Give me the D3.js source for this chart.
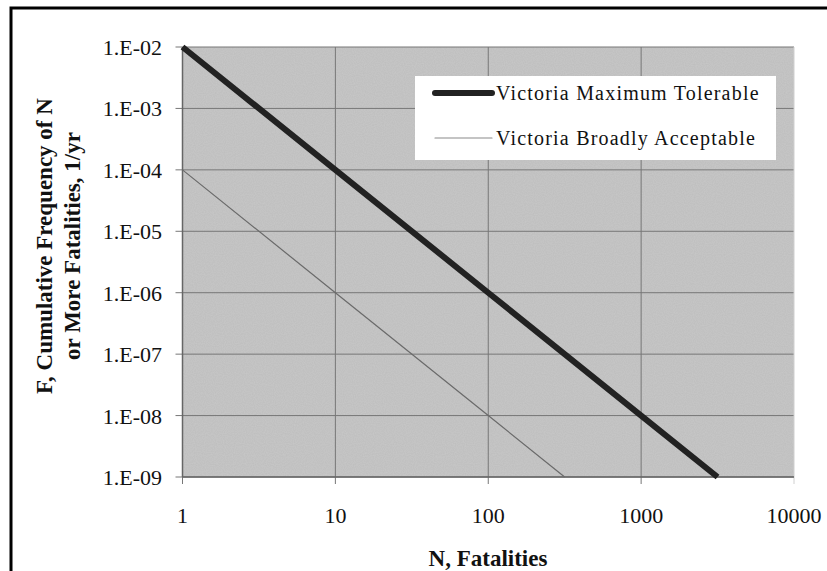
<!DOCTYPE html>
<html>
<head>
<meta charset="utf-8">
<script src="https://cdn.jsdelivr.net/npm/d3@7"></script>
<style>
  body { margin: 0; background: #fff; }
  svg text { font-family: "Liberation Serif", "Times New Roman", serif; fill: #111; }
</style>
</head>
<body>
<div id="chart"></div>
<script>
// data
const xTicks = [1, 10, 100, 1000, 10000];
const yTicks = [1e-2, 1e-3, 1e-4, 1e-5, 1e-6, 1e-7, 1e-8, 1e-9];
const yTickLabels = ["1.E-02", "1.E-03", "1.E-04", "1.E-05", "1.E-06", "1.E-07", "1.E-08", "1.E-09"];

const seriesNames = ["Victoria Maximum Tolerable", "Victoria Broadly Acceptable"];
const maxTolN = [1, 10, 100, 1000, 3162];
const maxTolF = [1e-2, 1e-4, 1e-6, 1e-8, 1e-9];
const broadN = [1, 10, 100, 316];
const broadF = [1e-4, 1e-6, 1e-8, 1e-9];

const width = 827, height = 571;
const margin = {top: 47, right: 33, bottom: 94, left: 182.5};

const svg = d3.select("#chart")
    .append("svg")
    .attr("width", width)
    .attr("height", height);

// noisy grey like the scanned original
const defs = svg.append("defs");
const filt = defs.append("filter").attr("id", "grain").attr("x", 0).attr("y", 0).attr("width", 1).attr("height", 1);
filt.append("feTurbulence").attr("type", "fractalNoise").attr("baseFrequency", 0.9).attr("numOctaves", 1).attr("seed", 3).attr("result", "noise");
filt.append("feColorMatrix").attr("in", "noise").attr("type", "matrix")
    .attr("values", "0 0 0 0 0.72  0 0 0 0 0.72  0 0 0 0 0.72  0 0 0 0.5 0").attr("result", "g");
filt.append("feComposite").attr("in", "g").attr("in2", "SourceGraphic").attr("operator", "atop");

// outer frame (only top and left edges show)
svg.append("rect")
    .attr("x", 11).attr("y", 8)
    .attr("width", 900).attr("height", 700)
    .attr("fill", "none")
    .attr("stroke", "#000")
    .attr("stroke-width", 3);

const x = d3.scaleLog()
    .domain([1, 10000])
    .range([margin.left, width - margin.right]);

const y = d3.scaleLog()
    .domain([1e-9, 1e-2])
    .range([height - margin.bottom, margin.top]);

// plot area
svg.append("rect")
    .attr("x", x(1)).attr("y", y(1e-2))
    .attr("width", x(10000) - x(1))
    .attr("height", y(1e-9) - y(1e-2))
    .attr("fill", "#bdbdbd");
svg.append("rect")
    .attr("x", x(1)).attr("y", y(1e-2))
    .attr("width", x(10000) - x(1))
    .attr("height", y(1e-9) - y(1e-2))
    .attr("fill", "#bdbdbd")
    .attr("filter", "url(#grain)")
    .attr("opacity", 0.7);

// grid lines
svg.append("g")
    .selectAll("line")
    .data(yTicks)
    .enter()
    .append("line")
    .attr("x1", x(1) - 7).attr("x2", x(10000))
    .attr("y1", d => y(d)).attr("y2", d => y(d))
    .attr("stroke", "#777")
    .attr("stroke-width", 1);

svg.append("g")
    .selectAll("line")
    .data(xTicks)
    .enter()
    .append("line")
    .attr("x1", d => x(d)).attr("x2", d => x(d))
    .attr("y1", y(1e-2)).attr("y2", y(1e-9) + 7)
    .attr("stroke", d => d === 10000 ? "#d0d0d0" : "#777")
    .attr("stroke-width", 1);

// axis edges
svg.append("line")
    .attr("x1", x(1)).attr("x2", x(1))
    .attr("y1", y(1e-2)).attr("y2", y(1e-9))
    .attr("stroke", "#666").attr("stroke-width", 1.5);
svg.append("line")
    .attr("x1", x(1)).attr("x2", x(10000))
    .attr("y1", y(1e-9)).attr("y2", y(1e-9))
    .attr("stroke", "#666").attr("stroke-width", 1.5);

// tick labels
svg.append("g")
    .selectAll("text")
    .data(yTicks)
    .enter()
    .append("text")
    .attr("x", 162)
    .attr("y", d => y(d) + 8)
    .attr("text-anchor", "end")
    .attr("font-size", "22px")
    .text((d, i) => yTickLabels[i]);

svg.append("g")
    .selectAll("text")
    .data(xTicks)
    .enter()
    .append("text")
    .attr("x", d => x(d))
    .attr("y", 523)
    .attr("text-anchor", "middle")
    .attr("font-size", "22px")
    .text(d => d);

// series
const line = d3.line()
    .x(d => x(d[0]))
    .y(d => y(d[1]));

svg.append("path")
    .datum(broadN.map((n, i) => [n, broadF[i]]))
    .attr("d", line)
    .attr("fill", "none")
    .attr("stroke", "#6a6a6a")
    .attr("stroke-width", 1.2);

svg.append("path")
    .datum(maxTolN.map((n, i) => [n, maxTolF[i]]))
    .attr("d", line)
    .attr("fill", "none")
    .attr("stroke", "#222")
    .attr("stroke-width", 6);

// legend
const legend = svg.append("g");
legend.append("rect")
    .attr("x", 415).attr("y", 76)
    .attr("width", 361).attr("height", 84)
    .attr("fill", "#fff");

const legRows = [
    {name: seriesNames[0], y: 93, w: 6, c: "#222"},
    {name: seriesNames[1], y: 138, w: 1.2, c: "#8a8a8a"}
];
legend.selectAll("line")
    .data(legRows)
    .enter()
    .append("line")
    .attr("x1", 435).attr("x2", 492)
    .attr("y1", d => d.y).attr("y2", d => d.y)
    .attr("stroke", d => d.c)
    .attr("stroke-width", d => d.w)
    .attr("stroke-linecap", "round");
legend.selectAll("text")
    .data(legRows)
    .enter()
    .append("text")
    .attr("x", 496)
    .attr("y", d => d.y + 7)
    .attr("font-size", "20px")
    .attr("letter-spacing", "1.2px")
    .text(d => d.name);

// axis titles
svg.append("text")
    .attr("x", 488)
    .attr("y", 566)
    .attr("text-anchor", "middle")
    .attr("font-size", "23px")
    .attr("font-weight", "bold")
    .text("N, Fatalities");

const yTitle = svg.append("text")
    .attr("transform", "translate(0,246) rotate(-90)")
    .attr("text-anchor", "middle")
    .attr("font-size", "23px")
    .attr("font-weight", "bold");
yTitle.append("tspan").attr("x", 0).attr("y", 52).text("F, Cumulative Frequency of N");
yTitle.append("tspan").attr("x", 0).attr("y", 80).text("or More Fatalities, 1/yr");
</script>
</body>
</html>
